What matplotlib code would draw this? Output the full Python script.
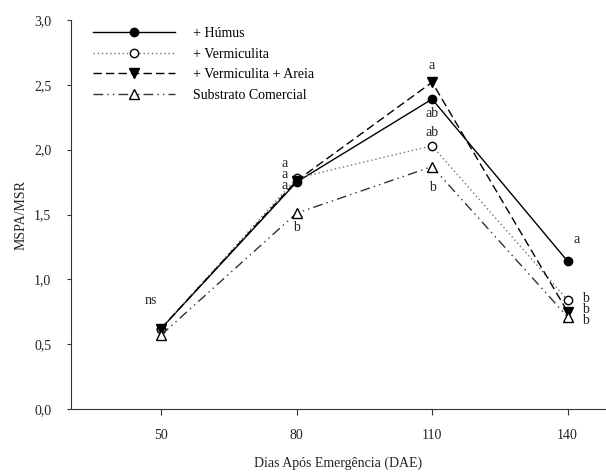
import matplotlib
matplotlib.use("Agg")
import matplotlib.pyplot as plt
from matplotlib.ticker import FuncFormatter

plt.rcParams["font.family"] = ["Liberation Serif", "DejaVu Serif"]
plt.rcParams["font.size"] = 10

# dados
dae = [50, 80, 110, 140]
humus = [0.62, 1.75, 2.39, 1.14]
vermiculita = [0.62, 1.78, 2.03, 0.84]
verm_areia = [0.62, 1.76, 2.52, 0.75]
substrato = [0.57, 1.51, 1.87, 0.71]

labels = ["+ Húmus", "+ Vermiculita", "+ Vermiculita + Areia", "Substrato Comercial"]

# letras de significancia (x, y, texto)
letras = [
    (47.8, 0.84, "ns"),
    (77.3, 1.81, "a\na\na"),
    (80.0, 1.40, "b"),
    (110.0, 2.65, "a"), (110.0, 2.28, "ab"), (110.0, 2.13, "ab"),
    (110.0, 1.71, "b"),
    (142.0, 1.31, "a"),
    (144.0, 0.765, "b\nb\nb"),
]

fig = plt.figure(figsize=(6.06, 4.72), dpi=100)
ax = fig.add_axes([0.1167, 0.1335, 0.8833, 0.8241])

lw = 1.0
ax.plot(dae, humus, color="black", lw=lw, ls="-", marker="o",
        ms=6, mfc="black", mec="black", label=labels[0])
ax.plot(dae, vermiculita, color="0.45", lw=lw, ls=(0, (1, 2)), marker="o",
        ms=6, mfc="white", mec="black", label=labels[1])
ax.plot(dae, verm_areia, color="black", lw=lw, ls=(0, (6, 3)), marker="v",
        ms=6.5, mfc="black", mec="black", label=labels[2])
ax.plot(dae, substrato, color="0.2", lw=lw, ls=(0, (7, 3, 1, 3, 1, 3)), marker="^",
        ms=6.5, mfc="white", mec="black", label=labels[3])

for x, y, t in letras:
    ax.text(x, y, t, ha="center", va="center", fontsize=10, color="#222222",
            linespacing=0.8)

ax.set_xlim(30, 148.5)
ax.set_ylim(0, 3.0)
ax.set_xticks(dae)
ax.set_yticks([0, 0.5, 1.0, 1.5, 2.0, 2.5, 3.0])
ax.yaxis.set_major_formatter(FuncFormatter(lambda v, p: f"{v:.1f}".replace(".", ",")))

for s in ["top", "right"]:
    ax.spines[s].set_visible(False)
for s in ["left", "bottom"]:
    ax.spines[s].set_color("#333333")
ax.tick_params(direction="out", colors="#333333", labelcolor="#222222")
ax.tick_params(axis="x", length=4.5, pad=10)
ax.tick_params(axis="y", length=3, pad=11)

ax.set_xlabel("Dias Após Emergência (DAE)", color="#222222", labelpad=10)
ax.set_ylabel("MSPA/MSR", color="#222222", labelpad=5)

ax.legend(loc="upper left", bbox_to_anchor=(0.042, 0.982), frameon=False,
          handlelength=5.9, handletextpad=1.3, numpoints=1,
          borderaxespad=0, borderpad=0, labelspacing=0.55)

fig.savefig("out.png", dpi=100)
